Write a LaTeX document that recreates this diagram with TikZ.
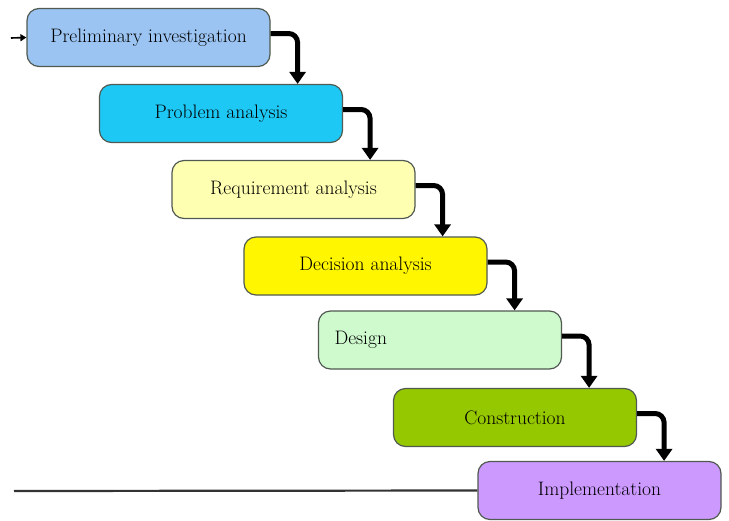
\documentclass[tikz,border=0pt]{standalone}
\usetikzlibrary{arrows.meta}

\begin{document}
\begin{tikzpicture}
[x = 1pt, y = -1pt,
 every node/.style = {font = \fontsize{19.5}{22}\selectfont},
 stage/.style  = {draw = borderc, line width = 1.2pt, rounded corners = 12pt,
                  minimum width = 243pt, minimum height = 58pt},
 flow/.style   = {line width = 5pt, rounded corners = 9pt,
                  -{Triangle[width = 16pt, length = 12pt]}},
 entry/.style  = {line width = 1.6pt, -{Triangle[width = 7pt, length = 6pt]}},
 ground/.style = {line width = 2.2pt, draw = black!80},
]

% Define stage colors
\definecolor{borderc}{RGB}{80,90,80}
\definecolor{prelimcolor}{RGB}{155,196,242}
\definecolor{problemcolor}{RGB}{30,200,245}
\definecolor{reqcolor}{RGB}{255,255,178}
\definecolor{decisioncolor}{RGB}{255,246,0}
\definecolor{designcolor}{RGB}{206,250,206}
\definecolor{constrcolor}{RGB}{150,200,0}
\definecolor{implcolor}{RGB}{204,153,255}

\useasboundingbox (0,0) rectangle (729,520);

%%%%%%%%%%% STAGES
\node[stage, fill = prelimcolor]   (prelim)   at (148.5,37.5) {Preliminary investigation};
\node[stage, fill = problemcolor]  (problem)  at (221,113.5)  {Problem analysis};
\node[stage, fill = reqcolor]      (req)      at (293.5,189.5) {Requirement analysis};
\node[stage, fill = decisioncolor] (decision) at (365.5,266)  {Decision analysis};
\node[stage, fill = designcolor, text width = 211pt, inner xsep = 16pt, align = left]
                                   (design)   at (440,340)    {Design};
\node[stage, fill = constrcolor]   (constr)   at (515,417.5)  {Construction};
\node[stage, fill = implcolor]     (impl)     at (599.5,490.5) {Implementation};

%%%%%%%%%%% FLOW BETWEEN STAGES
\draw[flow] ([yshift=4pt]prelim.east)   -| ([xshift=27pt]prelim.east |- problem.north);
\draw[flow] ([yshift=4pt]problem.east)  -| ([xshift=27pt]problem.east |- req.north);
\draw[flow] ([yshift=4pt]req.east)      -| ([xshift=27pt]req.east |- decision.north);
\draw[flow] ([yshift=4pt]decision.east) -| ([xshift=27pt]decision.east |- design.north);
\draw[flow] ([yshift=4pt]design.east)   -| ([xshift=27pt]design.east |- constr.north);
\draw[flow] ([yshift=4pt]constr.east)   -| ([xshift=27pt]constr.east |- impl.north);

%%%%%%%%%%% IN AND OUT
\coordinate (start) at (11,38);
\coordinate (lineend) at (14,491);
\draw[entry] (start) -- (prelim.west);
\draw[ground] (lineend) -- (impl.west);

\end{tikzpicture}
\end{document}
